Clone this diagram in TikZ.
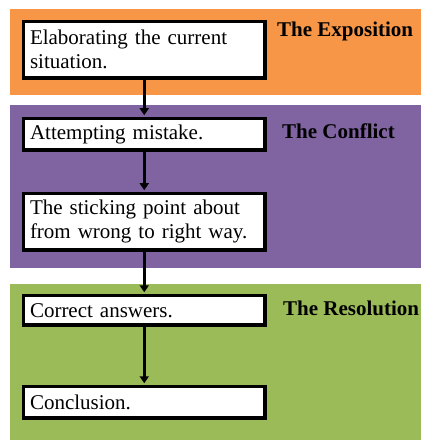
\documentclass[tikz,border=0pt]{standalone}
\usepackage{fontspec}
\setmainfont{Liberation Serif}
\usetikzlibrary{arrows.meta}
\definecolor{expo}{HTML}{F79646}
\definecolor{confl}{HTML}{8064A2}
\definecolor{resol}{HTML}{9BBB59}
\tikzset{
  band/.style={draw=none},
  stepbox/.style={draw=black, fill=white, line width=3.5bp, anchor=north west,
    text width=228.5bp, inner xsep=6.5bp, inner ysep=0bp, align=left,
    font=\fontsize{21bp}{24bp}\selectfont},
  phase/.style={anchor=base west, inner sep=0pt,
    font=\fontsize{21bp}{24bp}\selectfont\bfseries},
  arr/.style={line width=2.5bp, -{Triangle[width=9bp,length=7bp]}, shorten >=1.5bp}
}
\begin{document}
\begin{tikzpicture}[x=1bp,y=1bp]
\useasboundingbox (0,0) rectangle (421,-442);
\fill[white] (0,0) rectangle (421,-442);
% bands
\fill[expo] (10,-9) rectangle (421,-95);
\fill[confl] (10,-105) rectangle (421,-268);
\fill[resol] (10,-284) rectangle (421,-440);
% boxes
\node[stepbox, minimum height=56.5bp] (b1) at (21.75,-19.75) {Elaborating the current\\situation.};
\node[stepbox, minimum height=31.5bp] (b2) at (21.75,-116.75) {Attempting mistake.};
\node[stepbox, minimum height=56.5bp] (b3) at (21.75,-191.75) {The sticking point about\\from wrong to right way.};
\node[stepbox, minimum height=29.5bp] (b4) at (21.75,-293.75) {Correct answers.};
\node[stepbox, minimum height=31.5bp] (b5) at (21.75,-384.75) {Conclusion.};
% arrows
\draw[arr] (b1.south) -- (b2.north);
\draw[arr] (b2.south) -- (b3.north);
\draw[arr] (b3.south) -- (b4.north);
\draw[arr] (b4.south) -- (b5.north);
% labels
\node[phase] (l1) at (277,-37) {The Exposition};
\node[phase] (l2) at (282,-139) {The Conflict};
\node[phase] (l3) at (283,-315) {The Resolution};
\end{tikzpicture}
\end{document}
